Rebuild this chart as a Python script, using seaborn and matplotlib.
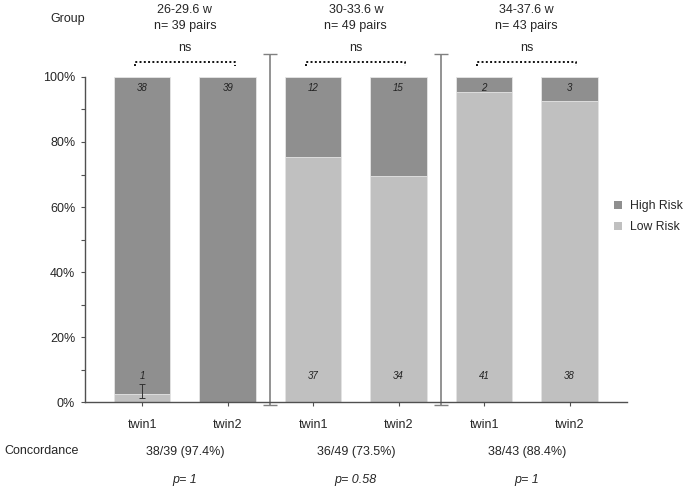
import pandas as pd
import matplotlib
matplotlib.use("Agg")
import matplotlib.pyplot as plt
import matplotlib.transforms as mtransforms
from matplotlib.patches import Patch
from matplotlib.ticker import MultipleLocator, PercentFormatter
import seaborn as sns

# data
group_names = ["26-29.6 w", "30-33.6 w", "34-37.6 w"]
group_n = ["n= 39 pairs", "n= 49 pairs", "n= 43 pairs"]
bar_keys = ["g1_twin1", "g1_twin2", "g2_twin1", "g2_twin2", "g3_twin1", "g3_twin2"]
bar_labels = ["twin1", "twin2", "twin1", "twin2", "twin1", "twin2"]
high_risk = [38, 39, 12, 15, 2, 3]
low_risk = [1, 0, 37, 34, 41, 38]
concordance = ["38/39 (97.4%)", "36/49 (73.5%)", "38/43 (88.4%)"]
p_values = ["p= 1", "p= 0.58", "p= 1"]
sig_labels = ["ns", "ns", "ns"]
err_low, err_high = 1.2, 5.5  # error bar on first twin1 bar

HIGH_C = "#8f8f8f"
LOW_C = "#c0c0c0"

df = pd.DataFrame({"bar": bar_keys, "high": high_risk, "low": low_risk})
df["total"] = df["high"] + df["low"]
df["low_pct"] = df["low"] / df["total"] * 100
df["full"] = 100.0

sns.set_style("white")
plt.rcParams["font.family"] = ["Liberation Sans", "DejaVu Sans"]

fig = plt.figure(figsize=(6.85, 4.87), dpi=100)
ax = fig.add_axes([0.124, 0.1745, 0.791, 0.6674])

sns.barplot(data=df, x="bar", y="full", color=HIGH_C, width=0.66, order=bar_keys,
            saturation=1, edgecolor="#e6e6e6", linewidth=0.6, ax=ax)
sns.barplot(data=df, x="bar", y="low_pct", color=LOW_C, width=0.66, order=bar_keys,
            saturation=1, edgecolor="#e6e6e6", linewidth=0.6, ax=ax)

ax.set_xlim(-0.67, 5.67)
ax.set_ylim(0, 100)
ax.set_xlabel("")
ax.set_ylabel("")
ax.set_xticks(range(len(bar_labels)))
ax.set_xticklabels(bar_labels, fontsize=9)
ax.yaxis.set_major_locator(MultipleLocator(20))
ax.yaxis.set_minor_locator(MultipleLocator(10))
ax.yaxis.set_major_formatter(PercentFormatter(decimals=0))
ax.tick_params(axis="y", which="both", left=True, direction="out", length=3,
               width=0.8, color="#505050", labelsize=9, pad=4)
ax.tick_params(axis="x", bottom=True, direction="out", length=3, width=0.8,
               color="#505050", pad=9)
for side in ["top", "right"]:
    ax.spines[side].set_visible(False)
for side in ["left", "bottom"]:
    ax.spines[side].set_color("#505050")
    ax.spines[side].set_linewidth(1.0)
ax.spines["left"].set_bounds(0, 100)

# counts inside bars
for i, (h, l) in enumerate(zip(high_risk, low_risk)):
    ax.text(i, 96.5, str(h), ha="center", va="center", fontsize=7,
            style="italic", color="#222222")
    if l > 0:
        ax.text(i, 8, str(l), ha="center", va="center", fontsize=7,
                style="italic", color="#222222")

# error bar on the first bar
ax.errorbar([0], [(err_low + err_high) / 2], yerr=[[(err_high - err_low) / 2]],
            fmt="none", ecolor="#333333", elinewidth=0.7, capsize=2.5, capthick=0.7)

# group dividers
for xd in [1.5, 3.5]:
    ax.errorbar([xd], [53], yerr=[[54]], fmt="none", ecolor="#808080",
                elinewidth=1.2, capsize=5, capthick=1.0, clip_on=False)

# significance brackets
for g in range(3):
    x0, x1 = 2 * g - 0.08, 2 * g + 1.08
    ax.plot([x0, x0, x1, x1], [103.4, 104.7, 104.7, 103.4], color="#111111",
            linestyle=(0, (1, 1.2)), linewidth=1.4, clip_on=False)
    ax.text(2 * g + 0.5, 109, sig_labels[g], ha="center", va="center", fontsize=9)

# header and footer texts
trans = mtransforms.blended_transform_factory(ax.transData, fig.transFigure)
fig.text(0.099, 0.961, "Group", ha="center", va="center", fontsize=9)
fig.text(0.007, 0.073, "Concordance", ha="left", va="center", fontsize=9)
for g in range(3):
    xc = 2 * g + 0.5
    ax.text(xc, 0.98, group_names[g], transform=trans, ha="center", va="center", fontsize=9)
    ax.text(xc, 0.947, group_n[g], transform=trans, ha="center", va="center", fontsize=9)
    ax.text(xc, 0.071, concordance[g], transform=trans, ha="center", va="center", fontsize=9)
    ax.text(xc, 0.015, p_values[g], transform=trans, ha="center", va="center",
            fontsize=9, style="italic")

handles = [Patch(facecolor=HIGH_C, edgecolor="none", label="High Risk"),
           Patch(facecolor=LOW_C, edgecolor="none", label="Low Risk")]
fig.legend(handles=handles, loc="center left", bbox_to_anchor=(0.897, 0.555),
           frameon=False, fontsize=8.8, handlelength=0.6, handleheight=0.6,
           handletextpad=0.7, labelspacing=0.7, borderpad=0, borderaxespad=0)

fig.savefig("out.png", dpi=100)
